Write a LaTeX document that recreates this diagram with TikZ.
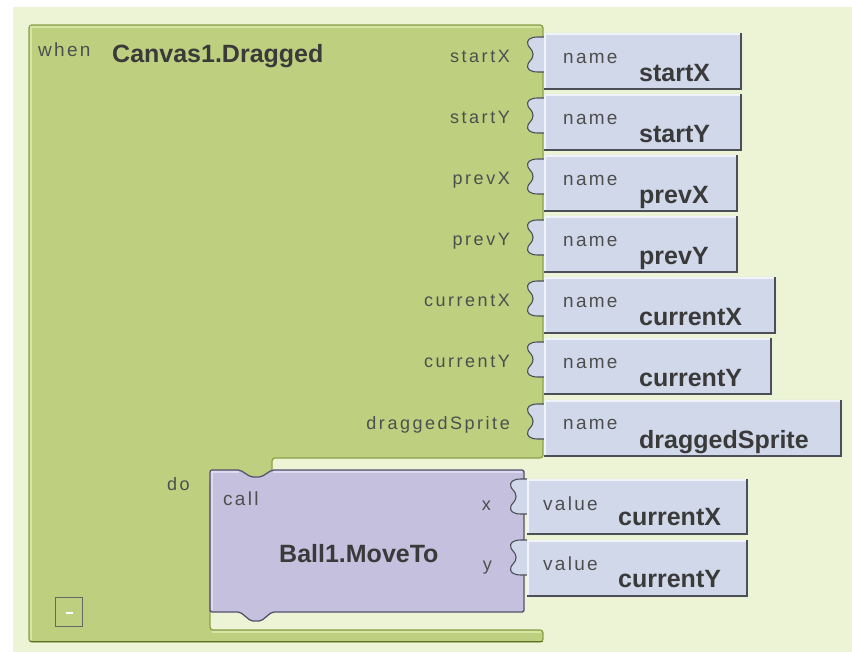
\documentclass[tikz,border=0pt]{standalone}
\usepackage{fontspec}
\setmainfont{Liberation Sans}
\newfontfamily\smallfont[LetterSpace=12]{Liberation Sans}
\newfontfamily\argfont[LetterSpace=14]{Liberation Sans}
\definecolor{pagebg}{HTML}{ECF4D5}
\definecolor{eventgreen}{HTML}{BED07F}
\definecolor{eventedge}{HTML}{8BA148}
\definecolor{eventlight}{HTML}{D6E4A4}
\definecolor{eventdark}{HTML}{5F7030}
\definecolor{valblue}{HTML}{D0D8EA}
\definecolor{valdark}{HTML}{4C4F58}
\definecolor{vallight}{HTML}{F0F3FA}
\definecolor{callpurple}{HTML}{C4C0DE}
\definecolor{calledge}{HTML}{55516C}
\definecolor{calllight}{HTML}{DEDBF0}
\definecolor{inktext}{HTML}{3A3A3A}
\definecolor{softtext}{HTML}{4E4E4E}

% outline of the plug on the left of a value block: #1 left x, #2 top of the plug
\newcommand{\plugcurve}[2]{%
  (#1,{#2+35}) -- ({#1-6},{#2+35})
    .. controls ({#1-14},{#2+35}) and ({#1-18},{#2+32}) .. ({#1-16},{#2+27})
    .. controls ({#1-15},{#2+24}) and ({#1-11},{#2+22.5}) .. ({#1-11},{#2+17.5})
    .. controls ({#1-11},{#2+12.5}) and ({#1-15},{#2+11}) .. ({#1-16},{#2+8})
    .. controls ({#1-18},{#2+3}) and ({#1-14},{#2}) .. ({#1-6},{#2}) -- (#1,#2)}

% one value block: #1 left x, #2 top y, #3 right x, #4 bottom y, #5 offset of the plug
\newcommand{\valueblock}[5]{%
  \path[fill=valblue] (#3,{#2+#5}) -- (#3,#2) -- (#1,#2) -- (#1,{#2+#5}) -- ({#1-6},{#2+#5})
    .. controls ({#1-14},{#2+#5}) and ({#1-18},{#2+#5+3}) .. ({#1-16},{#2+#5+8})
    .. controls ({#1-15},{#2+#5+11}) and ({#1-11},{#2+#5+12.5}) .. ({#1-11},{#2+#5+17.5})
    .. controls ({#1-11},{#2+#5+22.5}) and ({#1-15},{#2+#5+24}) .. ({#1-16},{#2+#5+27})
    .. controls ({#1-18},{#2+#5+32}) and ({#1-14},{#2+#5+35}) .. ({#1-6},{#2+#5+35})
    -- (#1,{#2+#5+35}) -- (#1,#4) -- (#3,#4) -- cycle;
  \draw[valdark, line width=1.1] \plugcurve{#1}{#2+#5};
  \draw[vallight, line width=1.5] ({#1+1},{#4-2}) -- ({#1+1},{#2+1}) -- ({#3-2},{#2+1});
  \draw[valdark, line width=2] ({#1},{#4-1}) -- ({#3-1},{#4-1}) -- ({#3-1},{#2});
}

\begin{document}
\begin{tikzpicture}[x=1pt, y=-1pt,
  smalllbl/.style={font=\smallfont\fontsize{19}{19}\selectfont, text=softtext, inner sep=0pt},
  arglbl/.style={font=\argfont\fontsize{18}{18}\selectfont, text=softtext, inner sep=0pt},
  boldlbl/.style={font=\bfseries\fontsize{25}{25}\selectfont, text=inktext, inner sep=0pt},
  minusbtn/.style={draw=gray!80!black, line width=1.5, minimum width=27pt, minimum height=29pt, inner sep=0pt}]

% page
\useasboundingbox (0,0) rectangle (852,652);
\fill[white] (0,0) rectangle (852,652);
\fill[pagebg] (13,7) rectangle (852,652);

% event block body
\path[fill=eventgreen, draw=eventedge, line width=1.3, rounded corners=3]
  (29,25) -- (543,25) -- (543,458) -- (272,458) -- (272,480) -- (210,480)
  -- (210,630) -- (543,630) -- (543,642) -- (29,642) -- cycle;
\draw[eventlight, line width=1.6] (31,640) -- (31,27) -- (541,27);
\draw[eventlight, line width=1.6] (212,632) -- (541,632);
\draw[eventdark, line width=1.6] (30,641.5) -- (543,641.5);

% value blocks on the event parameters
\valueblock{544}{33}{742}{90}{4}
\valueblock{544}{94}{742}{151}{4}
\valueblock{544}{155}{738}{212}{4}
\valueblock{544}{216}{738}{273}{4}
\valueblock{544}{277}{776}{334}{4}
\valueblock{544}{338}{772}{395}{4}
\valueblock{544}{400}{842}{457}{4}

% procedure call block
\path[fill=callpurple, draw=calledge, line width=1.3, rounded corners=2]
  (210,470) -- (240,470) -- (251,477) -- (261,477) -- (272,470) -- (524,470)
  -- (524,612) -- (272,612) -- (261,621) -- (251,621) -- (240,612) -- (210,612) -- cycle;
\draw[calllight, line width=1.4] (212,610) -- (212,472) -- (239,472);
\draw[calllight, line width=1.4] (273,472) -- (522,472);

% value blocks on the call arguments
\valueblock{527}{479}{748}{535}{0}
\valueblock{527}{540}{748}{597}{0}

% collapse button
\node[minusbtn] (collapse) at (69,612) {};
\draw[white, line width=1.6] (65.5,613) -- (73,613);

% event header
\node[smalllbl, anchor=base west] (whenlbl) at (38,57) {when};
\node[boldlbl, anchor=base west] (eventname) at (112,63) {Canvas1.Dragged};

% parameter labels and their names
\foreach \lab [count=\i from 0] in {startX,startY,prevX,prevY,currentX,currentY,draggedSprite} {
  \node[arglbl, anchor=base east] (arg\i) at (510,{63+61*\i}) {\lab};
  \node[smalllbl, anchor=base west] (namelbl\i) at (563,{64+61*\i}) {name};
  \node[boldlbl, anchor=base west] (param\i) at (639,{82+61*\i}) {\lab};
}

% do section
\node[arglbl, anchor=base west] (dolbl) at (167,490) {do};
\node[smalllbl, anchor=base west] (calllbl) at (223,505) {call};
\node[boldlbl, anchor=base west] (procname) at (279,562) {Ball1.MoveTo};
\node[arglbl, anchor=base east] (xlbl) at (491,510) {x};
\node[arglbl, anchor=base east] (ylbl) at (492,570) {y};
\node[smalllbl, anchor=base west] (valuelbl0) at (543,510) {value};
\node[boldlbl, anchor=base west] (valx) at (618,525) {currentX};
\node[smalllbl, anchor=base west] (valuelbl1) at (543,570) {value};
\node[boldlbl, anchor=base west] (valy) at (618,587) {currentY};
\end{tikzpicture}
\end{document}
